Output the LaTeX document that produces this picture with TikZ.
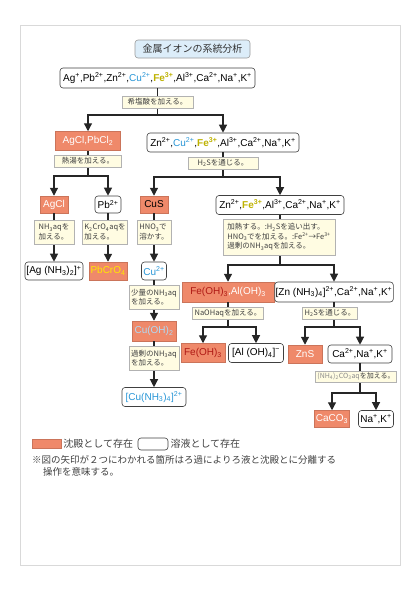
\documentclass[tikz,border=0pt]{standalone}
\usepackage{fontspec}
\setmainfont{Liberation Sans}
\newfontfamily\jp{Noto Sans CJK JP}
\usetikzlibrary{arrows.meta}
\definecolor{orng}{RGB}{239,137,106}
\definecolor{cream}{RGB}{255,252,226}
\definecolor{lblue}{RGB}{220,237,249}
\definecolor{feY}{RGB}{190,178,0}
\definecolor{cuB}{RGB}{40,150,215}
\definecolor{cuL}{RGB}{175,218,245}
\definecolor{feR}{RGB}{175,25,20}
\definecolor{pbY}{RGB}{255,232,0}
\newcommand\upx[1]{\textsuperscript{#1}}
\newcommand\dnx[1]{\textsubscript{#1}}
\newcommand\cuion{\textcolor{cuB}{Cu\upx{2+}}}
\newcommand\feion{\textcolor{feY}{\textbf{Fe}\upx{\textbf{3+}}}}
\begin{document}
\begin{tikzpicture}[x=1pt,y=-1pt,
 sol/.style={draw=black!75, rounded corners=3pt, fill=white, line width=0.6pt, inner sep=1pt, font=\fontsize{10}{12}\selectfont},
 ppt/.style={draw=orng!85!black, fill=orng, line width=0.5pt, inner sep=1pt, font=\fontsize{10}{12}\selectfont, text=white},
 lab/.style={draw=black!30, fill=cream, line width=0.5pt, inner sep=2pt, font=\jp\fontsize{7.5}{9.5}\selectfont, text=black!75, align=left},
 ln/.style={draw=black!85, line width=1.2pt},
 arr/.style={ln, -{Triangle[width=8pt,length=8pt]}},
 sz/.style 2 args={minimum width=#1, minimum height=#2}]
\useasboundingbox (0,0) rectangle (420,595);
\draw[black!15, line width=0.6pt] (20,25) rectangle (400,565);

% title
\node[sol, sz={115}{18}, fill=lblue, draw=black!40, font=\jp\fontsize{10}{12}\selectfont, text=black!80] (title) at (192.5,49) {金属イオンの系統分析};

% boxes
\node[sol, sz={195}{20}] (top) at (157.5,78) {Ag\upx{+},Pb\upx{2+},Zn\upx{2+},\cuion,\feion,Al\upx{3+},Ca\upx{2+},Na\upx{+},K\upx{+}};
\node[ppt, sz={65}{19}] (agpb) at (88,141) {AgCl,PbCl\dnx{2}};
\node[sol, sz={152}{19}] (zn1) at (223,142.5) {Zn\upx{2+},\cuion,\feion,Al\upx{3+},Ca\upx{2+},Na\upx{+},K\upx{+}};
\node[ppt, sz={28}{17}] (agcl) at (54,204.5) {AgCl};
\node[sol, sz={26}{17}] (pb) at (108,204.5) {Pb\upx{2+}};
\node[ppt, sz={28}{17}, text=black] (cus) at (154,204.5) {CuS};
\node[sol, sz={128}{19}] (zn2) at (280,205) {Zn\upx{2+},\feion,Al\upx{3+},Ca\upx{2+},Na\upx{+},K\upx{+}};
\node[sol, sz={58}{18}] (agam) at (54,271) {[Ag (NH\dnx{3})\dnx{2}]\upx{+}};
\node[ppt, sz={38}{18}, text=pbY] (pbcr) at (108,271) {PbCrO\dnx{4}};
\node[sol, sz={25}{18}, text=cuB] (cu) at (154,271) {Cu\upx{2+}};
\node[ppt, sz={92}{20}] (feal) at (228,292) {\textcolor{feR}{Fe(OH)\dnx{3}},Al(OH)\dnx{3}};
\node[sol, sz={117}{20}] (znam) at (334,292) {[Zn (NH\dnx{3})\dnx{4}]\upx{2+},Ca\upx{2+},Na\upx{+},K\upx{+}};
\node[ppt, sz={44}{20}, text=cuL] (cuoh) at (154,331) {Cu(OH)\dnx{2}};
\node[ppt, sz={44}{19}, text=feR] (feoh) at (203,353) {Fe(OH)\dnx{3}};
\node[sol, sz={55}{19}] (aloh) at (256,353) {[Al (OH)\dnx{4}]\upx{−}};
\node[ppt, sz={34}{18}] (zns) at (305,354) {ZnS};
\node[sol, sz={64}{18}] (ca) at (360,354) {Ca\upx{2+},Na\upx{+},K\upx{+}};
\node[sol, sz={64}{19}, text=cuB] (cuam) at (154,397) {[Cu(NH\dnx{3})\dnx{4}]\upx{2+}};
\node[ppt, sz={35}{17}] (caco) at (332,419) {CaCO\dnx{3}};
\node[sol, sz={35}{17}] (nak) at (376,419) {Na\upx{+},K\upx{+}};

% connectors
\coordinate (b1) at (157.5,115);
\draw[ln] (top) -- (b1);
\draw[arr] (b1) -| (agpb);
\draw[arr] (b1) -| (zn1);
\coordinate (b2) at (88,176);
\draw[ln] (agpb) -- (b2);
\draw[arr] (b2) -| (agcl);
\draw[arr] (b2) -| (pb);
\coordinate (b3) at (223,177);
\draw[ln] (zn1) -- (b3);
\draw[arr] (b3) -| (cus);
\draw[arr] (b3) -| (zn2);
\draw[arr] (agcl) -- (agam);
\draw[arr] (pb) -- (pbcr);
\draw[arr] (cus) -- (cu);
\coordinate (b5) at (280,265);
\draw[ln] (zn2) -- (b5);
\draw[arr] (b5) -| (feal);
\draw[arr] (b5) -| (znam);
\draw[arr] (cu) -- (cuoh);
\draw[arr] (cuoh) -- (cuam);
\coordinate (b7) at (228,327);
\draw[ln] (feal) -- (b7);
\draw[arr] (b7) -| (feoh);
\draw[arr] (b7) -| (aloh);
\coordinate (b8) at (334,327);
\draw[ln] (znam) -- (b8);
\draw[arr] (b8) -| (zns);
\draw[arr] (b8) -| (ca);
\coordinate (b9) at (360,393);
\draw[ln] (ca) -- (b9);
\draw[arr] (b9) -| (caco);
\draw[arr] (b9) -| (nak);

% labels
\node[lab, sz={71}{12}] (l1) at (157.5,102) {希塩酸を加える。};
\node[lab, sz={67}{12}] (l2) at (88,161) {熱湯を加える。};
\node[lab, sz={70}{12}] (l3) at (223,163) {H\dnx{2}Sを通じる。};
\node[lab, sz={40}{24}] (l4) at (54,232) {NH\dnx{3}aqを\\加える。};
\node[lab, sz={45}{24}] (l5) at (105,232) {K\dnx{2}CrO\dnx{4}aqを\\加える。};
\node[lab, sz={34}{24}] (l6) at (154,232) {HNO\dnx{3}で\\溶かす。};
\node[lab, sz={112}{36}] (l7) at (279,237) {加熱する。:H\dnx{2}Sを追い出す。\\HNO\dnx{3}でを加える。:Fe\upx{2+}→Fe\upx{3+}\\過剰のNH\dnx{3}aqを加える。};
\node[lab, sz={50}{24}] (l8) at (154,297) {少量のNH\dnx{3}aq\\を加える。};
\node[lab, sz={70}{12}] (l9) at (228,313) {NaOHaqを加える。};
\node[lab, sz={54}{12}] (l10) at (330,313) {H\dnx{2}Sを通じる。};
\node[lab, sz={50}{24}] (l11) at (154,358) {過剰のNH\dnx{3}aq\\を加える。};
\node[lab, sz={72}{11}, font=\jp\fontsize{7}{9}\selectfont] (l12) at (356,376.5) {\textcolor{black!45}{(NH\dnx{4})\dnx{2}CO\dnx{3}aq}を加える。};

% legend
\node[ppt, sz={29}{9}] (lgp) at (46.5,444) {};
\node[anchor=west, inner sep=1pt, font=\jp\fontsize{10}{12}\selectfont, text=black!75] (lgpt) at ([xshift=1pt]lgp.east) {沈殿として存在};
\node[sol, sz={30}{12}] (lgs) at (153,444) {};
\node[anchor=west, inner sep=1pt, font=\jp\fontsize{10}{12}\selectfont, text=black!75] (lgst) at ([xshift=1pt]lgs.east) {溶液として存在};
\node[anchor=west, inner sep=0pt, font=\jp\fontsize{9.5}{12}\selectfont, text=black!75] (n1) at (32,460) {※図の矢印が２つにわかれる箇所はろ過によりろ液と沈殿とに分離する};
\node[anchor=west, inner sep=0pt, font=\jp\fontsize{9.5}{12}\selectfont, text=black!75] (n2) at (43,472) {操作を意味する。};
\end{tikzpicture}
\end{document}
